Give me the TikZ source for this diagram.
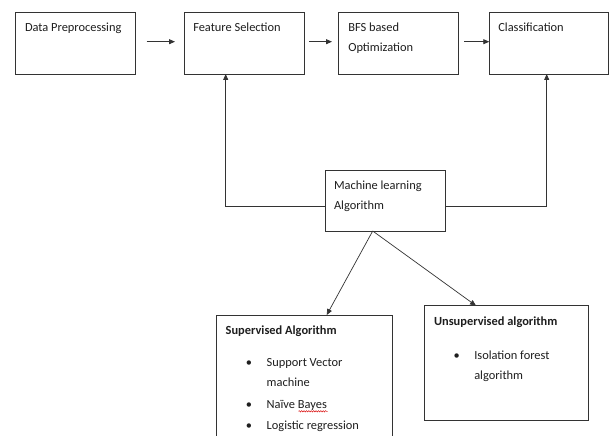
\documentclass[tikz,border=0pt]{standalone}
\usepackage{fontspec}
\setmainfont{Carlito}
\usetikzlibrary{arrows.meta,decorations.pathmorphing}
\definecolor{linec}{HTML}{333333}
\definecolor{txtc}{HTML}{1E1E1E}
\begin{document}
\begin{tikzpicture}[x=1pt,y=-1pt,
  box/.style={draw=linec,line width=0.8pt,inner sep=0pt,outer sep=0pt},
  lbl/.style={anchor=base west,inner sep=0pt,outer sep=0pt,text=txtc,font=\fontsize{12.4}{15}\selectfont},
  blbl/.style={lbl,font=\fontsize{12.4}{15}\selectfont\bfseries},
  bul/.style={anchor=base,inner sep=0pt,outer sep=0pt,text=txtc,font=\fontsize{12.4}{15}\selectfont},
  conn/.style={draw=linec,line width=0.8pt,-{Triangle[length=6pt,width=5pt]}},
  thin/.style={draw=linec,line width=0.7pt,-{Triangle[length=6pt,width=5pt]}}]
\fill[white] (0,0) rectangle (611,436);
\useasboundingbox (0,0) rectangle (611,436);
\clip (0,0) rectangle (611,436);

% top row boxes
\node[box,minimum width=120pt,minimum height=62pt] (b1) at (75.3,43) {};
\node[box,minimum width=120pt,minimum height=62pt] (b2) at (244.3,43) {};
\node[box,minimum width=120.4pt,minimum height=62pt] (b3) at (398.5,43) {};
\node[box,minimum width=119.4pt,minimum height=62pt] (b4) at (549,43) {};
% middle box
\node[box,minimum width=120pt,minimum height=61pt] (ml) at (385,200.5) {};
% bottom boxes
\node[box,minimum width=175.3pt,minimum height=130pt] (sup) at (304.35,380) {};
\node[box,minimum width=164pt,minimum height=114.3pt] (uns) at (506.3,362.85) {};

% texts
\node[lbl] (t1) at (25,31.7) {Data Preprocessing};
\node[lbl] (t2) at (193.3,31.7) {Feature Selection};
\node[lbl] (t3a) at (348.3,31.7) {BFS based};
\node[lbl] (t3b) at (348.3,51.7) {Optimization};
\node[lbl] (t4) at (498.3,31.7) {Classification};
\node[lbl] (tma) at (334,189) {Machine learning};
\node[lbl] (tmb) at (334,209) {Algorithm};

\node[blbl] (ts) at (225.7,334.3) {Supervised Algorithm};
\node[bul] (s1b) at (249,366.7) {•};
\node[lbl] (s1a) at (266.7,366.7) {Support Vector};
\node[lbl] (s1c) at (266.7,386.7) {machine};
\node[bul] (s2b) at (249,408) {•};
\node[lbl] (s2) at (266.7,408) {Naïve Bayes};
\node[bul] (s3b) at (249,429) {•};
\node[lbl] (s3) at (266.7,429) {Logistic regression};
\draw[red!85!black,line width=0.45pt,decorate,decoration={snake,amplitude=0.7pt,segment length=2.4pt}] (298.5,411.3) -- (327.5,411.3);

\node[blbl] (tu) at (434,325) {Unsupervised algorithm};
\node[bul] (u1b) at (456.7,359) {•};
\node[lbl] (u1a) at (474.3,359) {Isolation forest};
\node[lbl] (u1c) at (474.3,379.3) {algorithm};

% top row arrows
\draw[conn,shorten <=11.4pt,shorten >=9.3pt] ([yshift=1.3pt]b1.east) -- ([yshift=1.3pt]b2.west);
\draw[conn,shorten <=4.7pt,shorten >=6.3pt] ([yshift=1.3pt]b2.east) -- ([yshift=1.3pt]b3.west);
\draw[conn,shorten <=5.3pt] ([yshift=1.3pt]b3.east) -- ([yshift=1.3pt]b4.west);

% feedback lines
\draw[conn] ([yshift=-5.5pt]ml.west) -| ([xshift=-18.6pt]b2.south);
\draw[conn] ([yshift=-5.5pt]ml.east) -| ([xshift=-2.3pt]b4.south);

% diagonals
\draw[thin] ([xshift=-12.3pt]ml.south) -- ([xshift=22.35pt]sup.north);
\draw[thin] ([xshift=-12.3pt]ml.south) -- ([xshift=-30.3pt]uns.north);
\end{tikzpicture}
\end{document}
